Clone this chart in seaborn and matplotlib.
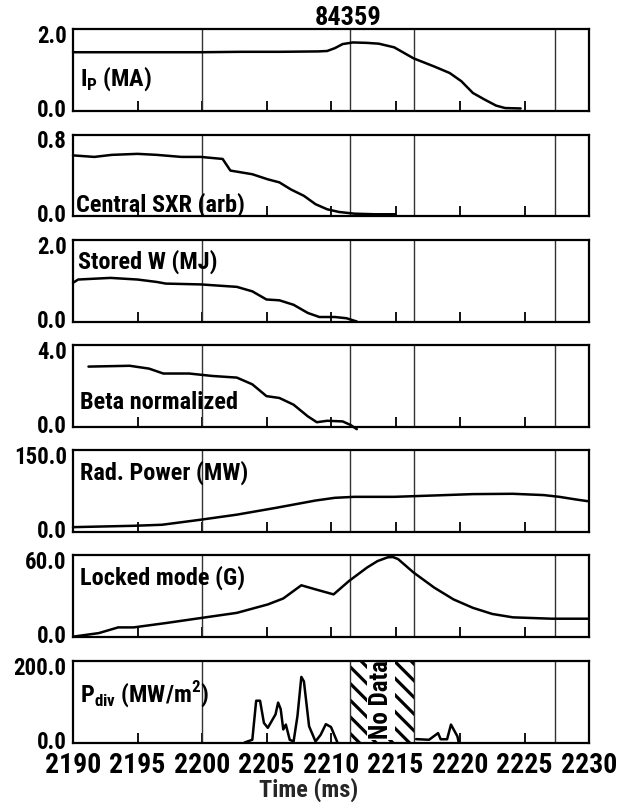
import numpy as np
import pandas as pd
import matplotlib
matplotlib.use("Agg")
import matplotlib.pyplot as plt
import matplotlib.transforms as mtransforms
from matplotlib import font_manager as fm
import seaborn as sns

# ---------------- data ----------------
shot = "84359"
x_ticks = [2190, 2195, 2200, 2205, 2210, 2215, 2220, 2225, 2230]
x_tick_labels = [str(v) for v in x_ticks]
marker_times = [2200.0, 2211.5, 2216.4, 2227.4]
no_data_span = [2211.5, 2216.4]

ip_t = [2190.0, 2192.0, 2195.0, 2198.0, 2200.0, 2203.0, 2206.0, 2209.0, 2209.7, 2210.3,
        2210.9, 2211.7, 2212.75, 2213.7, 2214.9, 2216.4, 2218.0, 2219.2, 2220.1, 2221.0,
        2221.9, 2222.8, 2223.5, 2224.7]
ip_v = [1.43, 1.43, 1.43, 1.43, 1.43, 1.44, 1.44, 1.45, 1.46, 1.53,
        1.63, 1.67, 1.66, 1.64, 1.55, 1.28, 1.08, 0.92, 0.72, 0.43,
        0.27, 0.12, 0.06, 0.05]

sxr_t = [2190.0, 2191.65, 2193.0, 2195.0, 2196.5, 2198.4, 2199.9, 2201.6, 2202.2, 2203.9,
         2205.1, 2206.0, 2206.9, 2207.9, 2208.8, 2209.7, 2210.6, 2211.8, 2213.4, 2215.0]
sxr_v = [0.595, 0.58, 0.60, 0.61, 0.60, 0.58, 0.58, 0.56, 0.446, 0.41,
         0.36, 0.33, 0.26, 0.198, 0.116, 0.066, 0.04, 0.023, 0.017, 0.017]

w_t = [2190.0, 2190.4, 2192.9, 2195.0, 2196.5, 2197.2, 2199.9, 2202.7, 2203.9, 2205.0,
       2206.0, 2207.1, 2208.2, 2209.1, 2210.3, 2211.2, 2212.0]
w_v = [0.95, 1.03, 1.07, 1.03, 0.97, 0.93, 0.91, 0.85, 0.74, 0.54,
       0.52, 0.41, 0.21, 0.11, 0.11, 0.08, 0.0]

beta_t = [2191.2, 2194.4, 2195.9, 2197.0, 2199.0, 2200.8, 2202.7, 2203.9, 2205.0, 2206.0,
          2207.1, 2208.2, 2208.9, 2209.7, 2210.9, 2211.5, 2212.0]
beta_v = [2.94, 2.98, 2.84, 2.60, 2.60, 2.48, 2.40, 2.07, 1.49, 1.40,
          1.07, 0.50, 0.21, 0.28, 0.25, 0.08, -0.13]

rad_t = [2190.0, 2194.7, 2196.9, 2199.9, 2202.7, 2205.7, 2208.8, 2210.3, 2211.8, 2214.9,
         2218.0, 2221.0, 2224.1, 2226.5, 2227.7, 2229.0, 2229.9]
rad_v = [8.0, 10.5, 12.4, 21.7, 31.0, 43.4, 57.0, 62.0, 63.8, 63.8,
         66.3, 68.8, 69.4, 67.0, 63.8, 58.9, 55.8]

lm_t = [2190.1, 2192.0, 2193.5, 2194.7, 2197.2, 2199.9, 2202.7, 2205.1, 2206.3, 2207.7,
        2208.8, 2210.2, 2211.4, 2212.8, 2213.6, 2214.4, 2214.8, 2215.2, 2216.4, 2218.0,
        2219.5, 2221.0, 2222.5, 2224.1, 2227.1, 2229.9]
lm_v = [0.0, 2.5, 6.7, 6.7, 9.9, 13.6, 17.4, 23.6, 28.0, 37.7,
        34.7, 31.0, 40.9, 50.8, 55.5, 58.3, 58.5, 57.0, 47.1, 36.0,
        27.3, 21.1, 16.6, 14.1, 13.1, 13.1]

pdiv1_t = [2203.3, 2203.9, 2204.2, 2204.5, 2204.8, 2205.1, 2205.4, 2205.7, 2205.9, 2206.1,
           2206.3, 2206.5, 2206.8, 2207.1, 2207.4, 2207.7, 2207.9, 2208.3, 2208.8, 2209.2,
           2209.6, 2210.0, 2210.5]
pdiv1_v = [0.0, 6.7, 102.5, 102.5, 48.0, 36.0, 52.5, 69.0, 98.0, 82.0,
           32.0, 44.0, 6.7, 2.5, 65.0, 161.0, 150.0, 40.0, 2.5, 19.0,
           45.0, 38.0, 0.0]
pdiv2_t = [2216.6, 2217.6, 2218.3, 2218.5, 2219.0, 2219.3, 2219.8, 2219.9]
pdiv2_v = [8.3, 6.7, 23.0, 8.0, 8.0, 44.0, 15.0, 0.0]

panel_labels = [r"I$_\mathregular{P}$ (MA)", "Central SXR (arb)", "Stored W (MJ)",
                "Beta normalized", "Rad. Power (MW)", "Locked mode (G)",
                r"P$_\mathregular{div}$ (MW/m$^\mathregular{2}$)"]
panel_ymax = [2.0, 0.8, 2.0, 4.0, 150.0, 60.0, 200.0]
series = [[(ip_t, ip_v)], [(sxr_t, sxr_v)], [(w_t, w_v)], [(beta_t, beta_v)],
          [(rad_t, rad_v)], [(lm_t, lm_v)], [(pdiv1_t, pdiv1_v), (pdiv2_t, pdiv2_v)]]


# ---------------- font: pick an installed narrow / condensed sans ----------------
def pick_narrow_font():
    prefs = ["liberation sans narrow", "arial narrow", "nimbus sans narrow",
             "roboto condensed", "dejavu sans", "open sans condensed", "open sans",
             "noto sans condensed", "noto sans", "fira sans condensed", "pt sans narrow"]
    best = None
    for f in fm.fontManager.ttflist:
        key = (f.name + " " + f.fname).lower()
        nm = f.name.lower()
        narrow = ("narrow" in key or "condensed" in key
                  or str(f.stretch) in ("condensed", "semi-condensed", "extra-condensed"))
        if not narrow or "mono" in key or "cjk" in key or "italic" in key or "oblique" in key:
            continue
        if "serif" in nm and "sans" not in nm:
            continue
        if f.style != "normal":
            continue
        rank = len(prefs)
        for j, p in enumerate(prefs):
            if nm.startswith(p):
                rank = j
                break
        w = f.weight if isinstance(f.weight, int) else 400
        score = (rank, abs(w - 700), 0 if "extra" not in key else 1)
        if best is None or score < best[0]:
            best = (score, f)
    return None if best is None else best[1]


chosen = pick_narrow_font()

# ---------------- style ----------------
sns.set_theme(style="white")
if chosen is not None:
    plt.rcParams["font.family"] = [chosen.name, "DejaVu Sans"]
    plt.rcParams["font.stretch"] = chosen.stretch
    scale = 1.0
else:
    plt.rcParams["font.family"] = ["Liberation Sans", "DejaVu Sans"]
    scale = 0.85
plt.rcParams["font.weight"] = "bold"
plt.rcParams["hatch.linewidth"] = 2.3
plt.rcParams["text.color"] = "black"
plt.rcParams["xtick.color"] = "black"
plt.rcParams["ytick.color"] = "black"

# ---------------- layout ----------------
W, H = 620, 803
left_px, right_px = 73, 589
tops_px = [30, 135.5, 241, 346, 451, 556, 662]
hgt_px = 81.5
label_pos = [(0.014, 0.40), (0.006, 0.15), (0.010, 0.74), (0.013, 0.31),
             (0.013, 0.73), (0.013, 0.73), (0.014, 0.60)]

fig = plt.figure(figsize=(W / 100, H / 100), dpi=100)
down = mtransforms.ScaledTranslation(0, -4 / 100, fig.dpi_scale_trans)
up = mtransforms.ScaledTranslation(0, 3.5 / 100, fig.dpi_scale_trans)
right = mtransforms.ScaledTranslation(6 / 100, 0, fig.dpi_scale_trans)
axes = []
for i in range(7):
    top = tops_px[i]
    ax = fig.add_axes([left_px / W, 1 - (top + hgt_px) / H,
                       (right_px - left_px) / W, hgt_px / H])
    axes.append(ax)
    for (tt, vv) in series[i]:
        df = pd.DataFrame({"t": tt, "v": vv})
        sns.lineplot(data=df, x="t", y="v", ax=ax, color="black", lw=1.8,
                     estimator=None, sort=False, clip_on=False, zorder=3)
    ymax = panel_ymax[i]
    ax.set_xlim(x_ticks[0], x_ticks[-1])
    ax.set_ylim(0, ymax)
    ax.set_yticks([0, ymax])
    ax.set_yticklabels([f"{0:.1f}", f"{ymax:.1f}"], fontsize=16.5 * scale, fontweight="bold")
    ax.set_xticks(x_ticks)
    last = i == 6
    if last:
        ax.set_xticklabels(x_tick_labels, fontsize=20 * scale, fontweight="bold")
        xl0 = ax.get_xticklabels()[0]
        xl0.set_transform(xl0.get_transform() + right)
    ax.tick_params(axis="x", direction="in", length=7, width=1.3, bottom=True,
                   top=False, labelbottom=last, pad=6)
    ax.tick_params(axis="y", length=0, pad=4.5, left=True)
    ylabs = ax.get_yticklabels()
    ylabs[0].set_transform(ylabs[0].get_transform() + up)
    ylabs[1].set_transform(ylabs[1].get_transform() + down)
    for t0 in marker_times:
        ax.axvline(t0, color="#333333", lw=1.0, zorder=2)
    ax.set_xlabel("")
    ax.set_ylabel("")
    for s in ax.spines.values():
        s.set_linewidth(1.6)
        s.set_color("black")
        s.set_visible(True)
    lx, ly = label_pos[i]
    ax.text(lx, ly, panel_labels[i], transform=ax.transAxes, ha="left",
            va="center", fontsize=17.5 * scale, fontweight="bold", zorder=4)

# title
axes[0].set_title(shot, x=0.533, pad=3, fontsize=19 * scale, fontweight="bold")

# no-data hatched region on the bottom panel
axb = axes[-1]
axb.axvspan(no_data_span[0], no_data_span[1], facecolor="white", edgecolor="black",
            hatch="\\\\", linewidth=0, zorder=1)
axb.text(sum(no_data_span) / 2 - 0.1, 0.54, "No Data", rotation=90, ha="center",
         va="center", fontsize=18 * scale, fontweight="bold", zorder=2.2,
         transform=axb.get_xaxis_transform(),
         bbox=dict(facecolor="white", edgecolor="none", pad=1.5))

axb.set_xlabel("Time (ms)", fontsize=17.5 * scale, fontweight="bold")
axb.xaxis.set_label_coords((309 - left_px) / (right_px - left_px), -0.42)

fig.savefig("out.png", dpi=100)
